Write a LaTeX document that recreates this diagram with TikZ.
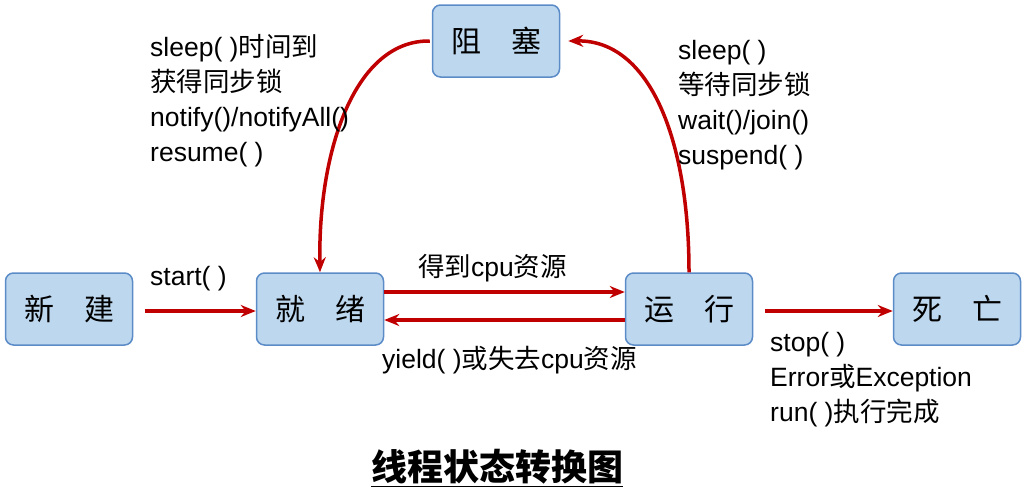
\documentclass[tikz,border=0pt]{standalone}
\usepackage{fontspec}
\setmainfont{Liberation Sans}
\newfontfamily\cjk{Noto Sans CJK SC}
\newcommand{\zh}[1]{{\cjk #1}}
\usetikzlibrary{arrows.meta}
\definecolor{arr}{HTML}{C00000}
\definecolor{boxfill}{HTML}{BDD7EE}
\definecolor{boxline}{HTML}{5B8CC8}
\begin{document}
\begin{tikzpicture}[x=1pt,y=-1pt,
  st/.style={draw=boxline,line width=1.5pt,fill=boxfill,rounded corners=8pt,minimum width=127pt,minimum height=72pt,font=\fontsize{30}{34}\selectfont\cjk},
  ar/.style={draw=arr,line width=3.5pt,-{Stealth[length=15pt,width=12pt]}},
  lb/.style={font=\fontsize{26.5}{35}\selectfont,anchor=north west,align=left,inner sep=0pt}]
\useasboundingbox (0,0) rectangle (1027,499);
\node[st] (zs) at (496,41) {阻\quad 塞};
\node[st] (xj) at (69,309) {新\quad 建};
\node[st] (jx) at (320,309) {就\quad 绪};
\node[st] (yx) at (689,309) {运\quad 行};
\node[st] (sw) at (957,309) {死\quad 亡};
\coordinate (a1) at (145,311);
\draw[ar] (a1) -- (jx.west |- a1);
\draw[ar] (jx.east |- 0,292) -- (yx.west |- 0,292);
\draw[ar] (yx.west |- 0,320) -- (jx.east |- 0,320);
\coordinate (a2) at (765,311);
\draw[ar] (a2) -- (sw.west |- a2);
\draw[ar] (yx.north) .. controls (689,140) and (650,40) .. ([xshift=8pt]zs.east);
\draw[ar] ([xshift=-2pt]zs.west) .. controls (355,40) and (318,150) .. (jx.north);
\node[lb] (t1) at (150,34) {sleep( )\zh{时间到}\\\zh{获得同步锁}\\notify()/notifyAll()\\resume( )};
\node[lb] (t2) at (678,40) {sleep( )\\\zh{等待同步锁}\\wait()/join()\\suspend( )};
\node[lb] (t3) at (150,266) {start( )};
\node[lb] (t4) at (418,254) {\zh{得到}cpu\zh{资源}};
\node[lb] (t5) at (382,346) {yield( )\zh{或失去}cpu\zh{资源}};
\node[lb] (t6) at (770,332) {stop( )\\Error\zh{或}Exception\\run( )\zh{执行完成}};
\node[font=\fontsize{36}{40}\selectfont\cjk\bfseries] (tt) at (497,468) {\underline{线程状态转换图}};
\end{tikzpicture}
\end{document}
